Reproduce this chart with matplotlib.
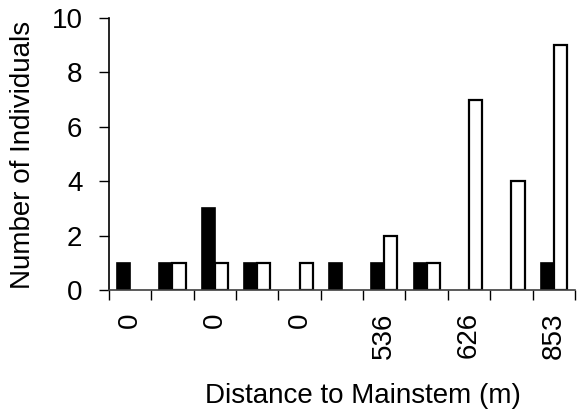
import matplotlib
matplotlib.use("Agg")
import matplotlib.pyplot as plt
import numpy as np

plt.rcParams['font.family'] = ['Liberation Sans', 'DejaVu Sans']

# Distance categories (only every other label is shown on the axis)
tick_labels = ["0", "", "0", "", "0", "", "536", "", "626", "", "853"]
black_counts = [1, 1, 3, 1, 0, 1, 1, 1, 0, 0, 1]
white_counts = [0, 1, 1, 1, 1, 0, 2, 1, 7, 4, 9]

FS = 20

fig = plt.figure(figsize=(5.79, 4.09), dpi=100)
ax = fig.add_axes([0.188, 0.291, 0.805, 0.665])

x = np.arange(len(tick_labels))
w = 0.31
ax.bar(x - w / 2, black_counts, width=w, color="black", edgecolor="black",
       linewidth=[1.2 if v else 0 for v in black_counts])
ax.bar(x + w / 2, white_counts, width=w, color="white", edgecolor="black",
       linewidth=[1.6 if v else 0 for v in white_counts])

ax.set_xlim(-0.5, len(tick_labels) - 0.5)
ax.set_ylim(0, 10)
ax.set_yticks(np.arange(0, 11, 2))

# Category labels at centres, tick marks at category boundaries
ax.set_xticks(x)
ax.set_xticklabels(tick_labels, rotation=90, fontsize=FS)
ax.set_xticks(np.arange(-0.5, len(tick_labels)), minor=True)
ax.tick_params(axis="x", which="major", length=0, pad=16)
ax.tick_params(axis="x", which="minor", length=7, width=1, direction="out")
ax.tick_params(axis="y", length=7, width=1, direction="out", labelsize=FS, pad=12)

for side in ("top", "right"):
    ax.spines[side].set_visible(False)
for side in ("left", "bottom"):
    ax.spines[side].set_linewidth(1.2)
ax.spines["bottom"].set_color("#404040")
ax.spines["bottom"].set_zorder(3)

fig.text(363 / 579, 1 - 396 / 409, "Distance to Mainstem (m)", fontsize=FS,
         ha="center", va="center")
fig.text(23 / 579, 1 - 155 / 409, "Number of Individuals", fontsize=FS,
         ha="center", va="center", rotation=90)

fig.savefig("out.png", dpi=100)
